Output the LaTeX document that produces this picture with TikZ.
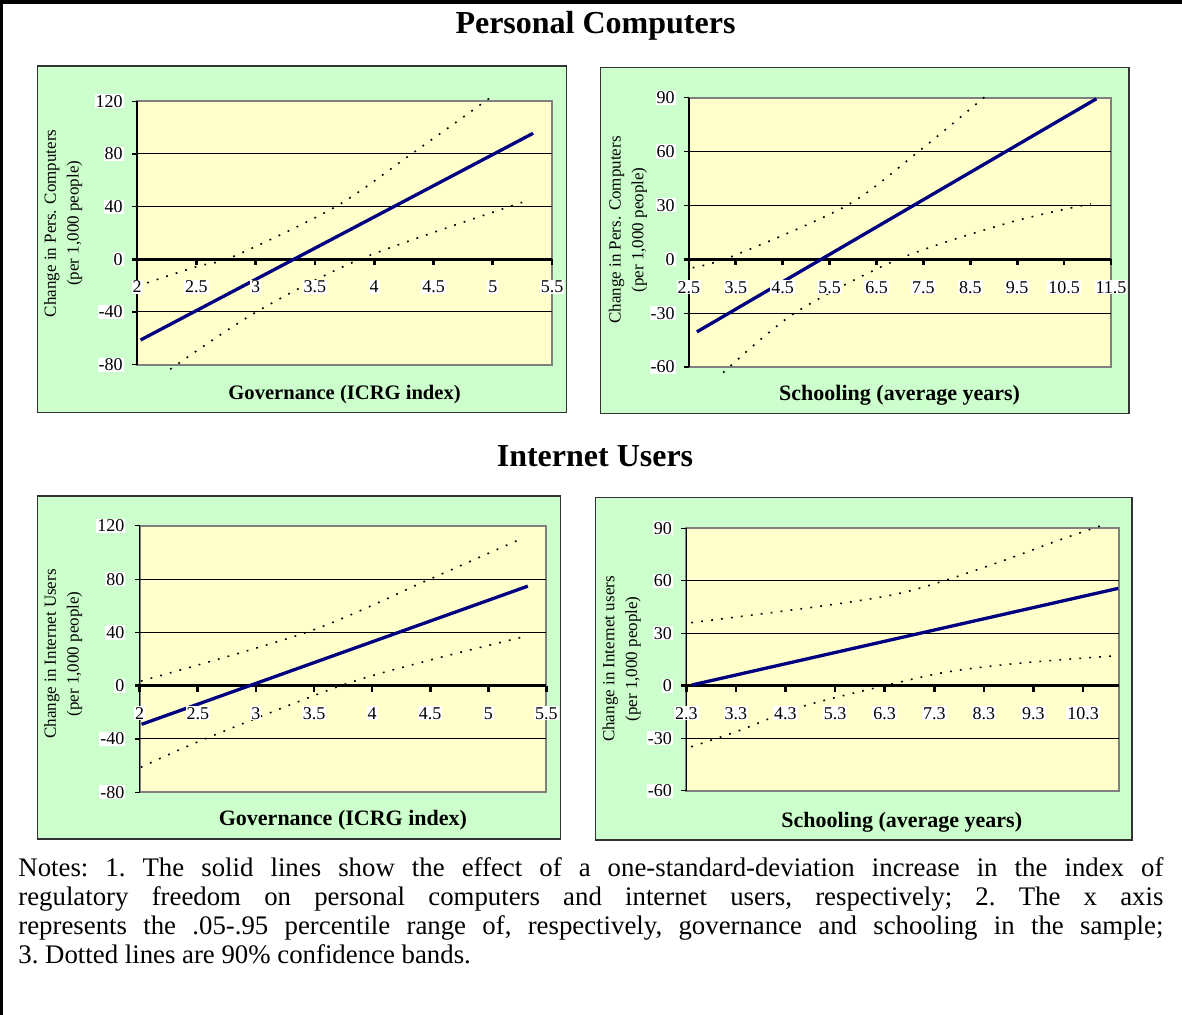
\documentclass[tikz,border=0pt]{standalone}
\usepackage{fontspec}
\setmainfont{Liberation Serif}
\usepackage{tikz}

\definecolor{panelgreen}{HTML}{CCFFCC}
\definecolor{plotyellow}{HTML}{FFFFCC}
\definecolor{effectblue}{HTML}{000080}

\tikzset{
  panel/.style={draw=black!80, line width=0.75pt, fill=panelgreen},
  plotarea/.style={draw=gray, line width=1pt, fill=plotyellow},
  gridline/.style={black, line width=0.5pt},
  yaxis/.style={black, line width=0.6pt},
  zeroaxis/.style={black, line width=1.35pt},
  effect/.style={effectblue, line width=1.65pt},
  band/.style={black, line width=0.8pt, dash pattern=on 0.9pt off 4.1pt},
  ticklab/.style={fill=white, inner sep=0.5pt, font=\fontsize{9}{10}\selectfont},
  ytitle/.style={rotate=90, align=center, font=\fontsize{8.5}{11.4}\selectfont},
  xtitle/.style={font=\bfseries\fontsize{11}{13}\selectfont},
  sectitle/.style={font=\bfseries\fontsize{16}{19}\selectfont},
}

\begin{document}
\begin{tikzpicture}[x=0.5pt, y=-0.5pt]
\useasboundingbox (0,0) rectangle (1182,1015);
% frame
\draw[line width=2.2pt] (0,2.2) -- (1182,2.2);
\draw[line width=1.5pt] (1.5,0) -- (1.5,1015);

\node[sectitle] (pcTitle) at (595.5,26) {Personal Computers};
\node[sectitle] (iuTitle) at (595,456) {Internet Users};

%PC / governance
\draw[panel] (37.5,66) rectangle (566.3,412.7);
\begin{scope}[shift={(-100.2,259.3)}, x=59.3pt, y=0.65835pt]
  \draw[plotarea] (2,-80) rectangle (5.5,120);
  \foreach \v in {-40,40,80} \draw[gridline] (2,\v) -- (5.5,\v);
  \draw[yaxis] (2,-80) -- (2,120);
  \foreach \v in {-80,-40,...,120} \draw[yaxis] (2,\v) -- ([xshift=-2.5pt]2,\v);
  \draw[zeroaxis] ([xshift=-2.5pt]2,0) -- (5.5,0);
  \foreach \t in {2,2.5,3,3.5,4,4.5,5,5.5} \draw[zeroaxis] (\t,0) -- ([yshift=-3pt]\t,0);
  \draw[band] plot[smooth] coordinates {(2.006,-20.3) (2.5,-5.6) (2.81,2.0) (3.67,39.7) (4.31,79.7) (4.99,123.5)};
  \draw[band] plot[smooth] coordinates {(2.28,-83.5) (3.0,-40.3) (3.88,0) (5.13,39.7) (5.30,44.3)};
  \draw[effect] (2.03,-61.3) -- (5.34,95.7);
  \foreach \v [count=\i] in {-80,-40,...,120} \node[ticklab, anchor=east] (ya\i) at ([xshift=-6.5pt]2,\v) {\v};
  \foreach \t [count=\i] in {2,2.5,3,3.5,4,4.5,5,5.5} \node[ticklab] (xa\i) at ([yshift=-13.7pt]\t,0) {\t};
\end{scope}
\node[ytitle] (pcGovY) at (63.2,223.3) {Change in Pers. Computers\\(per 1,000 people)};
\node[xtitle, font=\bfseries\fontsize{10.3}{12}\selectfont] (pcGovX) at (344.6,395) {Governance (ICRG index)};

%PC / schooling
\draw[panel] (600.6,67.7) rectangle (1129.2,413.3);
\begin{scope}[shift={(571.65,259.3)}, x=23.45pt, y=0.898pt]
  \draw[plotarea] (2.5,-60) rectangle (11.5,90);
  \foreach \v in {-30,30,60} \draw[gridline] (2.5,\v) -- (11.5,\v);
  \draw[yaxis] (2.5,-60) -- (2.5,90);
  \foreach \v in {-60,-30,...,90} \draw[yaxis] (2.5,\v) -- ([xshift=-2.5pt]2.5,\v);
  \draw[zeroaxis] ([xshift=-2.5pt]2.5,0) -- (11.5,0);
  \foreach \t in {2.5,3.5,4.5,5.5,6.5,7.5,8.5,9.5,10.5,11.5} \draw[zeroaxis] (\t,0) -- ([yshift=-3pt]\t,0);
  \draw[band] plot[smooth] coordinates {(2.58,-4.7) (3.45,1.9) (5.87,30) (7.40,60.1) (8.87,91.8)};
  \draw[band] plot[smooth] coordinates {(3.23,-63.1) (4.74,-30.2) (6.96,0) (9.34,20.5) (11.07,30.9)};
  \draw[effect] (2.67,-40.4) -- (11.19,89.4);
  \foreach \v [count=\i] in {-60,-30,...,90} \node[ticklab, anchor=east] (yb\i) at ([xshift=-6.5pt]2.5,\v) {\v};
  \foreach \t [count=\i] in {2.5,3.5,4.5,5.5,6.5,7.5,8.5,9.5,10.5,11.5} \node[ticklab] (xb\i) at ([yshift=-14pt]\t,0) {\t};
\end{scope}
\node[ytitle] (pcSchY) at (627.8,230) {Change in Pers. Computers\\(per 1,000 people)};
\node[xtitle] (pcSchX) at (899.6,395.7) {Schooling (average years)};

%internet / governance
\draw[panel] (37.5,496) rectangle (560.6,839);
\begin{scope}[shift={(-92.7,685.7)}, x=58.1pt, y=0.66585pt]
  \draw[plotarea] (2,-80) rectangle (5.5,120);
  \foreach \v in {-40,40,80} \draw[gridline] (2,\v) -- (5.5,\v);
  \draw[yaxis] (2,-80) -- (2,120);
  \foreach \v in {-80,-40,...,120} \draw[yaxis] (2,\v) -- ([xshift=-2.5pt]2,\v);
  \draw[zeroaxis] ([xshift=-2.5pt]2,0) -- (5.5,0);
  \foreach \t in {2,2.5,3,3.5,4,4.5,5,5.5} \draw[zeroaxis] (\t,0) -- ([yshift=-3pt]\t,0);
  \draw[band] plot[smooth] coordinates {(2.01,3.5) (3.45,40.5) (4.49,79.75) (5.30,111)};
  \draw[band] plot[smooth] coordinates {(2.01,-61.25) (2.56,-40) (3.73,0) (4.50,19.25) (5.34,37.5)};
  \draw[effect] (2.016,-29) -- (5.34,74.75);
  \foreach \v [count=\i] in {-80,-40,...,120} \node[ticklab, anchor=east] (yc\i) at ([xshift=-7pt]2,\v) {\v};
  \foreach \t [count=\i] in {2,2.5,3,3.5,4,4.5,5,5.5} \node[ticklab] (xc\i) at ([yshift=-13.8pt]\t,0) {\t};
\end{scope}
\node[ytitle] (iuGovY) at (63.2,654) {Change in Internet Users\\(per 1,000 people)};
\node[xtitle] (iuGovX) at (342.9,820.7) {Governance (ICRG index)};

%internet / schooling
\draw[panel] (595.7,497.3) rectangle (1131.8,840);
\begin{scope}[shift={(572.2,685.7)}, x=24.8pt, y=0.8755pt]
  \draw[plotarea] (2.3,-60) rectangle (11.02,90);
  \foreach \v in {-30,30,60} \draw[gridline] (2.3,\v) -- (11.02,\v);
  \draw[yaxis] (2.3,-60) -- (2.3,90);
  \foreach \v in {-60,-30,...,90} \draw[yaxis] (2.3,\v) -- ([xshift=-2.5pt]2.3,\v);
  \draw[zeroaxis] ([xshift=-2.5pt]2.3,0) -- (11.02,0);
  \foreach \t in {2.3,3.3,4.3,5.3,6.3,7.3,8.3,9.3,10.3} \draw[zeroaxis] (\t,0) -- ([yshift=-3pt]\t,0);
  \draw[band] plot[smooth] coordinates {(2.40,36) (4.93,45.1) (6.45,51.8) (7.44,59.4) (8.73,71.8) (9.80,83) (10.75,92.2)};
  \draw[band] plot[smooth] coordinates {(2.40,-34.9) (3.40,-25.3) (4.62,-12) (6.3,0) (7.59,8) (9.11,13.1) (10.98,17.1)};
  \draw[effect] (2.41,0.4) -- (11.01,55.6);
  \foreach \v [count=\i] in {-60,-30,...,90} \node[ticklab, anchor=east] (yd\i) at ([xshift=-6.5pt]2.3,\v) {\v};
  \foreach \t [count=\i] in {2.3,3.3,4.3,5.3,6.3,7.3,8.3,9.3,10.3} \node[ticklab] (xd\i) at ([yshift=-13.8pt]\t,0) {\t};
\end{scope}
\node[ytitle] (iuSchY) at (621.6,659) {Change in Internet users\\(per 1,000 people)};
\node[xtitle] (iuSchX) at (901.7,822.3) {Schooling (average years)};

% notes
\node[anchor=north west, text width=572.5pt, align=justify, inner sep=0pt, font=\fontsize{13.4}{14.5}\selectfont\frenchspacing] (notes) at (18,857.5)
 {Notes: 1. The solid lines show the effect of a one-standard-deviation increase in the index of\linebreak
  regulatory freedom on personal computers and internet users, respectively; 2. The x axis\linebreak
  represents the .05-.95 percentile range of, respectively, governance and schooling in the sample;\linebreak
  3. Dotted lines are 90\% confidence bands.};
\end{tikzpicture}
\end{document}
